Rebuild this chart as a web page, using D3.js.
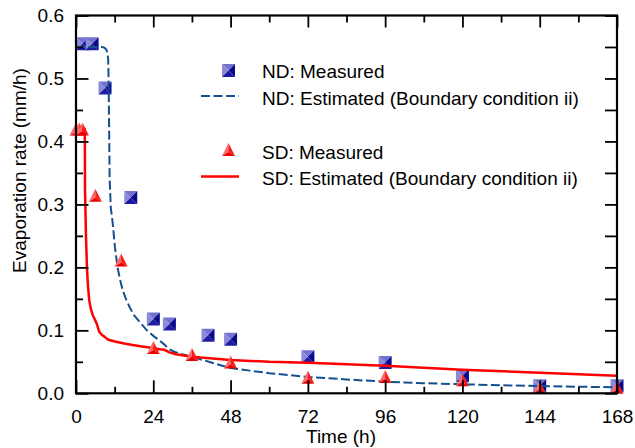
<!DOCTYPE html>
<html>
<head>
<meta charset="utf-8">
<script src="https://cdn.jsdelivr.net/npm/d3@7"></script>
<style>
  html, body { margin: 0; padding: 0; background: #fff; }
  svg { display: block; }
  text { font-family: "Liberation Sans", Arial, sans-serif; fill: #000; }
</style>
</head>
<body>
<svg id="chart" width="635" height="448"></svg>
<script>
// Measured evaporation rate, normal (ND) and saline (SD) soil
const ndMeasuredTime = [2, 5, 9, 17, 24, 29, 41, 48, 72, 96, 120, 144, 168];
const ndMeasuredRate = [0.555, 0.555, 0.485, 0.311, 0.118, 0.110, 0.092, 0.086, 0.058, 0.049, 0.028, 0.012, 0.012];

const sdMeasuredTime = [0, 1, 2, 6, 14, 24, 36, 48, 72, 96, 120, 144, 168];
const sdMeasuredRate = [0.418, 0.418, 0.418, 0.313, 0.210, 0.071, 0.060, 0.048, 0.024, 0.025, 0.020, 0.008, 0.008];

// Estimated curves (boundary condition ii)
const ndEstimatedTime = [0, 8, 8.8, 9.4, 9.8, 10.0, 10.15, 10.3, 10.45, 10.8, 11.4, 12.1, 12.9, 13.7, 14.5, 15.5, 16.6, 18, 20.2, 22, 24.3, 26, 27.5, 29, 30.5, 33, 36, 42, 48, 54, 60, 72, 84, 96, 108, 120, 132, 144, 156, 168];
const ndEstimatedRate = [0.55, 0.55, 0.549, 0.546, 0.540, 0.530, 0.490, 0.410, 0.340, 0.295, 0.270, 0.232, 0.200, 0.180, 0.164, 0.150, 0.1375, 0.124, 0.111, 0.100, 0.090, 0.084, 0.077, 0.070, 0.066, 0.062, 0.058, 0.049, 0.040, 0.036, 0.032, 0.026, 0.022, 0.0184, 0.016, 0.0143, 0.0128, 0.0116, 0.0105, 0.0095];

const sdEstimatedTime = [0, 2.7, 2.75, 2.8, 3.1, 3.4, 3.7, 4.1, 4.6, 5.2, 5.8, 6.4, 7.2, 8.0, 8.8, 10, 12.4, 15, 17.6, 20.5, 23.3, 26, 27.5, 29, 31, 36, 48, 60, 72, 96, 120, 144, 168];
const sdEstimatedRate = [0.42, 0.42, 0.40, 0.323, 0.25, 0.200, 0.172, 0.148, 0.134, 0.124, 0.118, 0.111, 0.098, 0.093, 0.090, 0.085, 0.082, 0.079, 0.0767, 0.0745, 0.0725, 0.070, 0.069, 0.065, 0.062, 0.058, 0.053, 0.050, 0.0486, 0.0438, 0.0375, 0.0327, 0.028];

// Axis ticks
const xTicks = [0, 24, 48, 72, 96, 120, 144, 168];
const xMinorTicks = [12, 36, 60, 84, 108, 132, 156];
const yTicks = [0.0, 0.1, 0.2, 0.3, 0.4, 0.5, 0.6];
const yMinorTicks = [0.05, 0.15, 0.25, 0.35, 0.45, 0.55];

const legendLabels = [
  "ND: Measured",
  "ND: Estimated (Boundary condition ii)",
  "SD: Measured",
  "SD: Estimated (Boundary condition ii)"
];

const svg = d3.select("#chart");
const m = { left: 76, right: 617, top: 15.5, bottom: 393.3 };

const x = d3.scaleLinear().domain([0, 168]).range([m.left, m.right]);
const y = d3.scaleLinear().domain([0, 0.6]).range([m.bottom, m.top]);

const zip = (a, b) => a.map((v, i) => [v, b[i]]);

// Faceted square marker (pyramid shading)
function squareMarker(g, s) {
  const h = s / 2;
  const facets = [
    { p: [[-h, -h], [h, -h], [0, 0]], c: "#7373cf" },
    { p: [[-h, h], [-h, -h], [0, 0]], c: "#8a8ad9" },
    { p: [[h, -h], [h, h], [0, 0]], c: "#0a0a8e" },
    { p: [[h, h], [-h, h], [0, 0]], c: "#1b1ba3" }
  ];
  facets.forEach(f => g.append("path").attr("d", "M" + f.p.join("L") + "Z").attr("fill", f.c));
}

// Faceted triangle marker
function triangleMarker(g) {
  const a = [0, -7.5], bl = [-6.5, 5.5], br = [6.5, 5.5], c = [0, 1.5];
  const facets = [
    { p: [a, bl, c], c: "#ff6b6b" },
    { p: [a, br, c], c: "#ff1a1a" },
    { p: [bl, br, c], c: "#e80000" }
  ];
  facets.forEach(f => g.append("path").attr("d", "M" + f.p.join("L") + "Z").attr("fill", f.c));
}

const line = d3.line().x(d => x(d[0])).y(d => y(d[1]));
const plot = svg.append("g");

// ND measured squares
plot.selectAll("g.nd").data(zip(ndMeasuredTime, ndMeasuredRate)).join("g")
  .attr("class", "nd")
  .attr("transform", d => `translate(${x(d[0])},${y(d[1])})`)
  .each(function () { squareMarker(d3.select(this), 13); });

// ND estimated (dashed)
plot.append("path")
  .datum(zip(ndEstimatedTime, ndEstimatedRate))
  .attr("d", line)
  .attr("fill", "none")
  .attr("stroke", "#14508f")
  .attr("stroke-width", 2)
  .attr("stroke-dasharray", "9,3.5");

// SD estimated (solid)
plot.append("path")
  .datum(zip(sdEstimatedTime, sdEstimatedRate))
  .attr("d", line)
  .attr("fill", "none")
  .attr("stroke", "#ff0000")
  .attr("stroke-width", 2.5)
  .attr("stroke-linejoin", "round");

// SD measured triangles
plot.selectAll("g.sd").data(zip(sdMeasuredTime, sdMeasuredRate)).join("g")
  .attr("class", "sd")
  .attr("transform", d => `translate(${x(d[0])},${y(d[1])})`)
  .each(function () { triangleMarker(d3.select(this)); });

// Axes: ticks point inward on all four sides
const fontSize = 19;
const axisBottom = d3.axisBottom(x).tickValues(xTicks).tickSize(-13).tickPadding(16).tickFormat(d3.format("d"));
const axisBottomMinor = d3.axisBottom(x).tickValues(xMinorTicks).tickSize(-6.5).tickFormat("");
const axisTop = d3.axisTop(x).tickValues(xTicks).tickSize(-12).tickFormat("");
const axisTopMinor = d3.axisTop(x).tickValues(xMinorTicks).tickSize(-7).tickFormat("");
const axisLeft = d3.axisLeft(y).tickValues(yTicks).tickSize(-12.5).tickPadding(12).tickFormat(d3.format(".1f"));
const axisLeftMinor = d3.axisLeft(y).tickValues(yMinorTicks).tickSize(-7).tickFormat("");
const axisRight = d3.axisRight(y).tickValues(yTicks.concat(yMinorTicks)).tickSize(-12).tickFormat("");

function styleAxis(g) {
  g.select(".domain").remove();
  g.selectAll(".tick line").attr("stroke", "#000").attr("stroke-width", 1.8);
  g.selectAll(".tick text")
    .style("font-family", "'Liberation Sans', Arial, sans-serif")
    .style("font-size", fontSize + "px").attr("fill", "#000");
}

svg.append("g").attr("transform", `translate(0,${m.bottom})`).call(axisBottom).call(styleAxis);
svg.append("g").attr("transform", `translate(0,${m.bottom})`).call(axisBottomMinor).call(styleAxis);
svg.append("g").attr("transform", `translate(0,${m.top})`).call(axisTop).call(styleAxis);
svg.append("g").attr("transform", `translate(0,${m.top})`).call(axisTopMinor).call(styleAxis);
svg.append("g").attr("transform", `translate(${m.left},0)`).call(axisLeft).call(styleAxis);
svg.append("g").attr("transform", `translate(${m.left},0)`).call(axisLeftMinor).call(styleAxis);
svg.append("g").attr("transform", `translate(${m.right},0)`).call(axisRight).call(styleAxis);

// Frame
svg.append("rect")
  .attr("x", m.left).attr("y", m.top)
  .attr("width", m.right - m.left).attr("height", m.bottom - m.top)
  .attr("fill", "none").attr("stroke", "#000").attr("stroke-width", 2.2);

// Axis titles
svg.append("text")
  .attr("x", 341).attr("y", 443)
  .attr("text-anchor", "middle")
  .style("font-size", fontSize + "px")
  .text("Time (h)");

svg.append("text")
  .attr("transform", "translate(26,170.5) rotate(-90)")
  .attr("text-anchor", "middle")
  .style("font-size", fontSize + "px")
  .text("Evaporation rate (mm/h)");

// Legend
const legend = svg.append("g");
const lgX0 = 201, lgX1 = 239, lgText = 262;
const rows = [70.5, 97.5, 151.5, 178];

const l0 = legend.append("g").attr("transform", `translate(228.5,${rows[0]})`);
squareMarker(l0, 13);
legend.append("line").attr("x1", lgX0).attr("x2", lgX1).attr("y1", rows[1] - 1.5).attr("y2", rows[1] - 1.5)
  .attr("stroke", "#14508f").attr("stroke-width", 2).attr("stroke-dasharray", "9,3.5");
const l2 = legend.append("g").attr("transform", `translate(228.5,${rows[2] - 1})`);
triangleMarker(l2);
legend.append("line").attr("x1", lgX0).attr("x2", lgX1).attr("y1", rows[3] - 1.5).attr("y2", rows[3] - 1.5)
  .attr("stroke", "#ff0000").attr("stroke-width", 2.4);

legend.selectAll("text.lg").data(legendLabels).join("text")
  .attr("class", "lg")
  .attr("x", lgText)
  .attr("y", (d, i) => rows[i] + 7)
  .style("font-size", fontSize + "px")
  .text(d => d);
</script>
</body>
</html>
